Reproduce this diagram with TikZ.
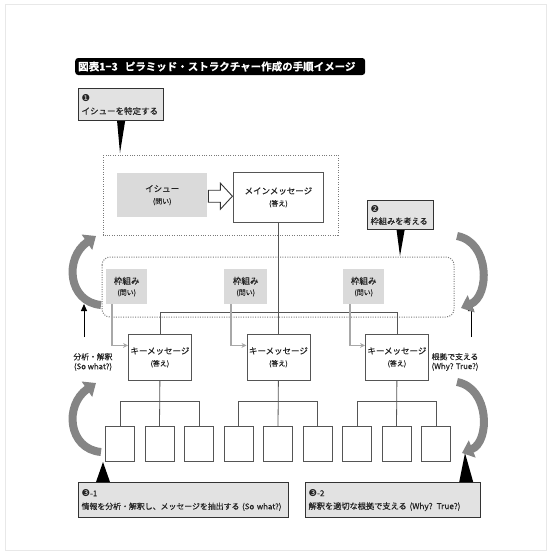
\documentclass[tikz,border=0pt]{standalone}
\usepackage{fontspec}
\setmainfont{Noto Sans CJK JP}[BoldFont={Noto Sans CJK JP Bold}, FakeBold=0.4]
\newfontfamily\dv{DejaVu Sans}
\usetikzlibrary{arrows.meta,calc}
\definecolor{calloutgray}{HTML}{E2E2E2}
\definecolor{boxgray}{HTML}{DADADA}
\definecolor{darkline}{HTML}{333333}
\definecolor{midline}{HTML}{555555}
\definecolor{dotline}{HTML}{7A7A7A}
\definecolor{lightarrow}{HTML}{A8A8A8}
\definecolor{bigarrow}{HTML}{858585}
\definecolor{txt}{HTML}{222222}
\begin{document}
\begin{tikzpicture}[x=1pt,y=-1pt,
  titlebar/.style={fill=black, rounded corners=3pt, text=white, font=\bfseries\fontsize{10.5}{12}\selectfont, inner sep=3pt, minimum height=17pt, text width=284pt, align=left, anchor=west},
  callout/.style={fill=calloutgray, draw=darkline, line width=1.2pt, align=left, inner sep=3pt, text=txt, font=\fontsize{8.5}{13}\selectfont, anchor=north west},
  graybox/.style={fill=boxgray, inner sep=1pt, align=center, text=txt, font=\fontsize{8.5}{13}\selectfont, anchor=north west},
  whitebox/.style={fill=white, draw=midline, line width=0.8pt, inner sep=1pt, align=center, text=txt, font=\fontsize{8.5}{13}\selectfont, anchor=north west},
  smallbox/.style={fill=white, draw=midline, line width=0.8pt, minimum width=29pt, minimum height=35pt, inner sep=0pt, anchor=north},
  conn/.style={draw=midline, line width=0.8pt},
  garrow/.style={draw=lightarrow, line width=1.6pt, -{Stealth[length=5pt,width=5pt]}},
  barrow/.style={draw=black, line width=1pt, -{Triangle[length=7pt,width=6pt]}},
  curvearrow/.style={draw=bigarrow, line width=8pt, -{Triangle[length=11pt,width=18pt]}},
  dotbox/.style={draw=dotline, line width=1pt, dash pattern=on 1pt off 1.4pt},
  sidelabel/.style={align=center, text=txt, font=\fontsize{7.8}{9.5}\selectfont, inner sep=0pt},
  pointer/.style={fill=black}
]
\useasboundingbox (0,0) rectangle (549,552);
\draw[gray!18, line width=0.8pt] (5,4) rectangle (546,550);

% title
\node[titlebar] (title) at (75,66.5) {図表1−3\hspace{7pt}ピラミッド・ストラクチャー作成の手順イメージ};

% callouts
\node[callout, minimum width=85pt, minimum height=32pt, text width=79pt] (c1) at (78,88) {{\dv\fontsize{9.5}{10}\selectfont ❶}\\イシューを特定する};
\node[callout, minimum width=66pt, minimum height=29pt, text width=60pt, font=\fontsize{8.2}{12}\selectfont] (c2) at (367,200) {{\dv\fontsize{9.5}{10}\selectfont ❷}\\枠組みを考える};
\node[callout, minimum width=210pt, minimum height=35pt, text width=204pt, font=\fontsize{7.9}{13}\selectfont] (c31) at (78,482) {{\dv\fontsize{9.5}{10}\selectfont ❸}-1\\情報を分析・解釈し、メッセージを抽出する (So what?)};
\node[callout, minimum width=175pt, minimum height=35pt, text width=169pt, font=\fontsize{8.2}{13}\selectfont] (c32) at (305,482) {{\dv\fontsize{9.5}{10}\selectfont ❸}-2\\解釈を適切な根拠で支える (Why? True?)};

% pointer triangles
\coordinate (t1) at (120,153);
\coordinate (t2) at (400,256);
\coordinate (t31) at (103,462);
\coordinate (t32) at (465,453);
\fill[pointer] ($(c1.south)+(-4,0)$) -- ($(c1.south)+(4,0)$) -- (t1) -- cycle;
\fill[pointer] ($(c2.south)+(-4,0)$) -- ($(c2.south)+(4,0)$) -- (t2) -- cycle;
\fill[pointer] ($(c31.north west)+(18,0)$) -- ($(c31.north west)+(32,0)$) -- (t31) -- cycle;
\fill[pointer] ($(c32.north east)+(-22,0)$) -- ($(c32.north east)+(-8,0)$) -- (t32) -- cycle;

% dotted groups
\draw[dotbox] (103,155) rectangle (338,235);
\draw[dotbox, rounded corners=8pt] (102,257) rectangle (454,317);

% issue and main message
\node[graybox, minimum width=90pt, minimum height=44pt] (issue) at (117,173) {イシュー\\[-1pt]{\fontsize{7}{9}\selectfont (問い)}};
\node[whitebox, minimum width=90pt, minimum height=50pt] (main) at (233,172) {メインメッセージ\\[-1pt]{\fontsize{7}{9}\selectfont (答え)}};
\draw[fill=white, draw=darkline, line width=0.9pt, line join=miter]
  ($(issue.east)+(1,-5)$) -- ($(issue.east)+(13,-5)$) -- ($(issue.east)+(13,-12)$) --
  ($(issue.east)+(25,1)$) -- ($(issue.east)+(13,14)$) -- ($(issue.east)+(13,7)$) --
  ($(issue.east)+(1,7)$) -- cycle;

% frames
\node[graybox, minimum width=41pt, minimum height=35pt] (f1) at (106,269) {枠組み\\[-2pt]{\fontsize{7}{9}\selectfont (問い)}};
\node[graybox, minimum width=43pt, minimum height=35pt] (f2) at (224,269) {枠組み\\[-2pt]{\fontsize{7}{9}\selectfont (問い)}};
\node[graybox, minimum width=41pt, minimum height=35pt] (f3) at (343,269) {枠組み\\[-2pt]{\fontsize{7}{9}\selectfont (問い)}};

% key messages
\node[whitebox, minimum width=63pt, minimum height=46pt] (k1) at (128,334) {キーメッセージ\\[-1pt]{\fontsize{7}{9}\selectfont (答え)}};
\node[whitebox, minimum width=63pt, minimum height=46pt] (k2) at (246.5,334) {キーメッセージ\\[-1pt]{\fontsize{7}{9}\selectfont (答え)}};
\node[whitebox, minimum width=63pt, minimum height=46pt] (k3) at (365,334) {キーメッセージ\\[-1pt]{\fontsize{7}{9}\selectfont (答え)}};

% small boxes
\foreach \k/\c in {1/159.5,2/278,3/396.5}{
  \node[smallbox] (s\k1) at (\c-39.5,426) {};
  \node[smallbox] (s\k2) at (\c,426) {};
  \node[smallbox] (s\k3) at (\c+39.5,426) {};
}

% tree connectors
\draw[conn] (main.south) -- (k2.north);
\draw[conn] (k1.north) -- ++(0,-22) -| (k3.north);
\foreach \k in {1,2,3}{
  \draw[conn] (k\k.south) -- (s\k2.north);
  \draw[conn] (s\k1.north) -- ++(0,-25) -| (s\k3.north);
}

% gray framework arrows
\draw[garrow] ($(f1.south west)+(6,0)$) |- ($(k1.west)+(0,-12)$);
\draw[garrow] ($(f2.south west)+(7,0)$) |- ($(k2.west)+(0,-12)$);
\draw[garrow] ($(f3.south west)+(7,0)$) |- ($(k3.west)+(0,-12)$);

% side labels and arrows
\node[sidelabel] (lab1) at (93,362) {分析・解釈\\(So what?)};
\node[sidelabel] (lab2) at (455,362) {根拠で支える\\(Why? True?)};
\coordinate (a1s) at (84,337); \coordinate (a1e) at (84,304);
\coordinate (a2s) at (471,337); \coordinate (a2e) at (471,304);
\draw[barrow] (a1s) -- (a1e);
\draw[barrow] (a2s) -- (a2e);

% big curved arrows
\coordinate (lt0) at (101,305); \coordinate (lt1) at (96,236);
\coordinate (rt0) at (457,236); \coordinate (rt1) at (461,308);
\coordinate (lb0) at (101,452); \coordinate (lb1) at (96,383);
\coordinate (rb0) at (457,382); \coordinate (rb1) at (462,453);
\draw[curvearrow] (lt0) .. controls (68,302) and (64,258) .. (lt1);
\draw[curvearrow] (rt0) .. controls (490,242) and (490,296) .. (rt1);
\draw[curvearrow] (lb0) .. controls (68,449) and (64,405) .. (lb1);
\draw[curvearrow] (rb0) .. controls (490,388) and (490,442) .. (rb1);
\end{tikzpicture}
\end{document}
